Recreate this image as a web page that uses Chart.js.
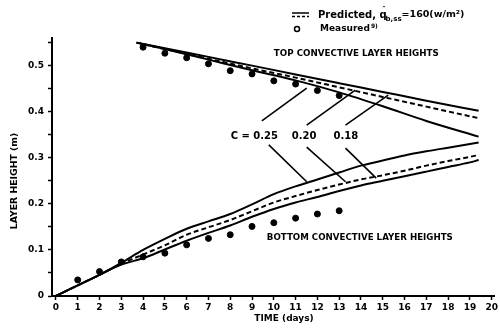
<!DOCTYPE html>
<html>
<head>
<meta charset="utf-8">
<script src="https://cdn.jsdelivr.net/npm/chart.js@4.4.1/dist/chart.umd.min.js"></script>
<style>
  html, body { margin: 0; padding: 0; background: #fff; }
  #wrap { width: 500px; height: 328px; }
</style>
</head>
<body>
<div id="wrap"><canvas id="chart"></canvas></div>
<script>
// ---- data ----
const dayTicks = [0,1,2,3,4,5,6,7,8,9,10,11,12,13,14,15,16,17,18,19,20];
const heightTicks = [0,0.05,0.1,0.15,0.2,0.25,0.3,0.35,0.4,0.45,0.5,0.55];

// top convective layer, predicted
const topDays = [3.7, 5, 7, 9, 11, 13, 15, 17, 19.4];
const topC018 = [0.550, 0.538, 0.519, 0.500, 0.481, 0.462, 0.443, 0.424, 0.402];
const topC020 = [0.550, 0.536, 0.515, 0.494, 0.474, 0.453, 0.432, 0.411, 0.386];
const topC025 = [0.550, 0.536, 0.513, 0.490, 0.468, 0.442, 0.412, 0.380, 0.346];

// bottom convective layer, predicted
const bottomDays = [0,1,2,3,4,5,6,7,8,9,10,11,12,13,14,15,16,17,18,19,19.4];
const bottomC025 = [0,0.023,0.046,0.072,0.100,0.124,0.146,0.162,0.178,0.199,0.221,0.238,0.253,0.268,0.283,0.294,0.305,0.314,0.322,0.330,0.333];
const bottomC020 = [0,0.023,0.046,0.070,0.090,0.110,0.133,0.149,0.165,0.184,0.203,0.217,0.230,0.242,0.253,0.262,0.272,0.283,0.293,0.302,0.306];
const bottomC018 = [0,0.023,0.046,0.068,0.082,0.101,0.120,0.137,0.153,0.172,0.189,0.203,0.215,0.228,0.240,0.250,0.260,0.270,0.280,0.290,0.295];

// measured
const measTopDays = [4,5,6,7,8,9,10,11,12,13];
const measTop = [0.540,0.527,0.517,0.504,0.489,0.482,0.467,0.460,0.446,0.435];
const measBottomDays = [1,2,3,4,5,6,7,8,9,10,11,12,13];
const measBottom = [0.035,0.053,0.074,0.085,0.093,0.111,0.125,0.133,0.151,0.159,0.169,0.178,0.185];

// pointer lines from the "C =" labels to the curves (data units)
const pointers = [
  [[9.45,0.380],[11.51,0.451]],
  [[11.51,0.371],[13.74,0.447]],
  [[13.29,0.371],[15.25,0.436]],
  [[9.77,0.328],[11.51,0.248]],
  [[11.51,0.323],[13.29,0.248]],
  [[13.29,0.321],[14.70,0.256]]
];
const cLabels = [['C = 0.25', 8.02], ['0.20', 10.82], ['0.18', 12.74]];

function pts(xs, ys) { return xs.map((x, i) => ({x: x, y: ys[i]})); }

function curve(label, xs, ys, dashed) {
  return {
    label: label, data: pts(xs, ys), showLine: true,
    borderColor: '#000', borderWidth: 2, borderDash: dashed ? [5, 3] : [],
    pointRadius: 0, cubicInterpolationMode: 'monotone'
  };
}

const datasets = [
  curve('Top C=0.18', topDays, topC018, false),
  curve('Top C=0.20', topDays, topC020, true),
  curve('Top C=0.25', topDays, topC025, false),
  curve('Bottom C=0.25', bottomDays, bottomC025, false),
  curve('Bottom C=0.20', bottomDays, bottomC020, true),
  curve('Bottom C=0.18', bottomDays, bottomC018, false),
  { label: 'Measured top', data: pts(measTopDays, measTop), pointRadius: 3,
    backgroundColor: '#000', borderColor: '#000' },
  { label: 'Measured bottom', data: pts(measBottomDays, measBottom), pointRadius: 3,
    backgroundColor: '#000', borderColor: '#000' }
];
pointers.forEach(p => {
  datasets.push({ label: 'pointer', data: p.map(q => ({x: q[0], y: q[1]})), showLine: true,
    borderColor: '#000', borderWidth: 1.6, pointRadius: 0 });
});

const FONT = 'DejaVu Sans';

// text notes, axis titles + legend
const notes = {
  id: 'notes',
  afterDatasetsDraw(chart) {
    const ctx = chart.ctx, xs = chart.scales.x, ys = chart.scales.y;
    ctx.save();
    ctx.fillStyle = '#000';
    ctx.textBaseline = 'middle';
    ctx.font = 'bold 8.8px ' + FONT;
    ctx.fillText('TOP CONVECTIVE LAYER HEIGHTS', xs.getPixelForValue(10.0), ys.getPixelForValue(0.525), 165);
    ctx.fillText('BOTTOM CONVECTIVE LAYER HEIGHTS', xs.getPixelForValue(9.68), ys.getPixelForValue(0.127), 186);
    ctx.font = 'bold 10px ' + FONT;
    cLabels.forEach(l => ctx.fillText(l[0], xs.getPixelForValue(l[1]), ys.getPixelForValue(0.347)));

    // axis titles
    ctx.font = 'bold 9px ' + FONT;
    ctx.textAlign = 'center';
    ctx.fillText('TIME (days)', 284, 319);
    ctx.save();
    ctx.translate(15, 181);
    ctx.rotate(-Math.PI / 2);
    ctx.font = 'bold 9.3px ' + FONT;
    ctx.fillText('LAYER HEIGHT (m)', 0, 0);
    ctx.restore();
    ctx.textAlign = 'left';

    // legend
    ctx.strokeStyle = '#000';
    ctx.lineWidth = 1.5;
    ctx.beginPath(); ctx.moveTo(292, 13); ctx.lineTo(309, 13); ctx.stroke();
    ctx.setLineDash([3, 2]);
    ctx.beginPath(); ctx.moveTo(292, 16.5); ctx.lineTo(309, 16.5); ctx.stroke();
    ctx.setLineDash([]);
    ctx.beginPath(); ctx.arc(297, 29, 2.5, 0, Math.PI * 2); ctx.stroke();

    ctx.font = 'bold 10px ' + FONT;
    let x = 318;
    ctx.fillText('Predicted,', x, 15); x += ctx.measureText('Predicted, ').width;
    ctx.font = 'bold 10px ' + FONT;
    ctx.fillText('q', x, 15);
    ctx.font = 'bold 7px ' + FONT;
    ctx.fillText('\u2033', x + 3, 9);
    ctx.fillText('b,ss', x + 6, 19);
    x += 6 + ctx.measureText('b,ss').width;
    ctx.font = 'bold 9.5px ' + FONT;
    ctx.fillText('=160(w/m\u00B2)', x, 15);
    ctx.font = 'bold 9px ' + FONT;
    ctx.fillText('Measured', 320, 29);
    const mw = ctx.measureText('Measured').width;
    ctx.font = 'bold 6px ' + FONT;
    ctx.fillText('9)', 320 + mw + 1, 26);
    ctx.restore();
  }
};

new Chart(document.getElementById('chart'), {
  type: 'scatter',
  data: { datasets: datasets },
  options: {
    responsive: true,
    maintainAspectRatio: false,
    animation: false,
    layout: { padding: { top: 38, right: 3, left: 0, bottom: 0 } },
    plugins: { legend: { display: false }, tooltip: { enabled: false } },
    scales: {
      x: {
        type: 'linear', min: -0.18, max: 20.14,
        afterBuildTicks: s => { s.ticks = dayTicks.map(v => ({value: v})); },
        afterFit: s => { s.height = 32; },
        border: { display: true, color: '#000', width: 2 },
        grid: { display: true, drawOnChartArea: false, color: '#000', tickLength: 4, tickWidth: 1.5 },
        ticks: { color: '#000', font: { family: FONT, size: 9, weight: 'bold' }, padding: 2, maxRotation: 0, autoSkip: false }
      },
      y: {
        type: 'linear', min: 0, max: 0.56,
        afterBuildTicks: s => { s.ticks = heightTicks.map(v => ({value: v})); },
        afterFit: s => { s.width = 52; },
        border: { display: true, color: '#000', width: 2 },
        grid: { display: true, drawOnChartArea: false, color: '#000', tickLength: 4, tickWidth: 1.5 },
        ticks: {
          color: '#000', font: { family: FONT, size: 9, weight: 'bold' }, padding: 4, autoSkip: false,
          callback: v => {
            const r = Math.round(v * 100);
            if (r % 10 !== 0) return '';
            return r === 0 ? '0' : (r / 100).toFixed(1);
          }
        }
      }
    }
  },
  plugins: [notes]
});
</script>
</body>
</html>
